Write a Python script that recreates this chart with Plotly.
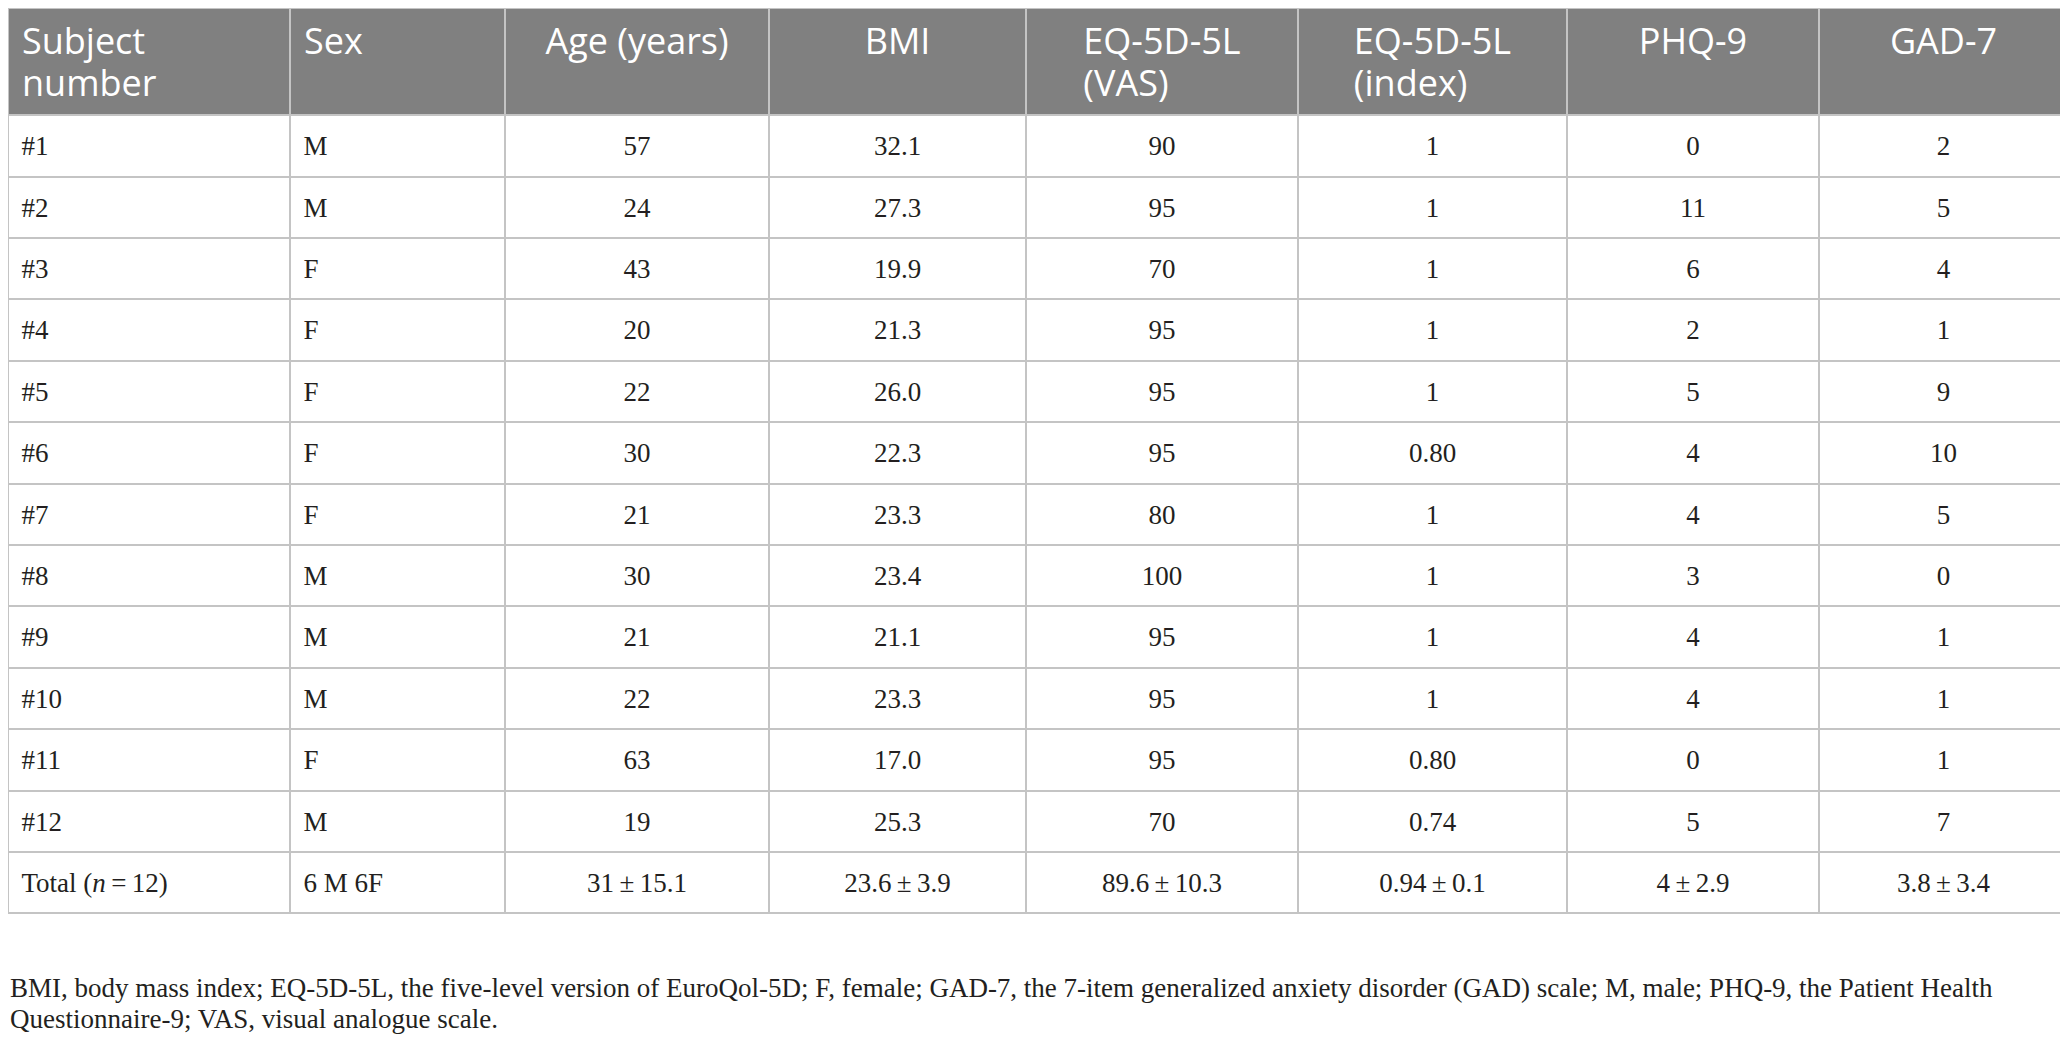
import plotly.graph_objects as go

# column headers
headers = ["Subject<br>number", "Sex", "Age (years)", "BMI", "EQ-5D-5L<br>(VAS)",
           "EQ-5D-5L<br>(index)", "PHQ-9", "GAD-7"]

# table values (one list per column)
subject = ["#1", "#2", "#3", "#4", "#5", "#6", "#7", "#8", "#9", "#10", "#11", "#12",
           "Total (<i>n</i>\u2009=\u200912)"]
sex = ["M", "M", "F", "F", "F", "F", "F", "M", "M", "M", "F", "M", "6 M 6F"]
age = ["57", "24", "43", "20", "22", "30", "21", "30", "21", "22", "63", "19",
       "31\u2009±\u200915.1"]
bmi = ["32.1", "27.3", "19.9", "21.3", "26.0", "22.3", "23.3", "23.4", "21.1", "23.3",
       "17.0", "25.3", "23.6\u2009±\u20093.9"]
eq_vas = ["90", "95", "70", "95", "95", "95", "80", "100", "95", "95", "95", "70",
          "89.6\u2009±\u200910.3"]
eq_index = ["1", "1", "1", "1", "1", "0.80", "1", "1", "1", "1", "0.80", "0.74",
            "0.94\u2009±\u20090.1"]
phq9 = ["0", "11", "6", "2", "5", "4", "4", "3", "4", "4", "0", "5", "4\u2009±\u20092.9"]
gad7 = ["2", "5", "4", "1", "9", "10", "5", "0", "1", "1", "1", "7", "3.8\u2009±\u20093.4"]

footnote = ["BMI, body mass index; EQ-5D-5L, the five-level version of EuroQol-5D; F, female; "
            "GAD-7, the 7-item generalized anxiety disorder (GAD) scale; M, male; PHQ-9, the Patient Health",
            "Questionnaire-9; VAS, visual analogue scale."]

# the page body keeps its 8px margin, so the figure is a bit smaller than the window
W, H = 2060, 1044
col_widths = [282, 215, 264, 257, 272, 269, 252, 249]
line_col = "#c4c4c4"
n_left = 2  # first two columns are left aligned

# table cells are top aligned: a bigger "strut" font pushes the visible text down,
# the trailing <br> keeps plotly from word-wrapping the markup
BODY_STRUT, BODY_SIZE = 36, 27
HEAD_STRUT, HEAD_SIZE = 32.5, 36


def body_cell(text, left):
    span = "<span style='font-size:%dpx'>%s%s</span>" % (BODY_SIZE, "\u2009" if left else "", text)
    return (span + "\u00a0<br>") if left else ("\u00a0" + span + "\u00a0<br>")


def head_cell(text, left):
    lines = text.split("<br>")
    out = ["<span style='font-size:%dpx'>%s%s</span>" % (HEAD_SIZE, "\u2009" if left else "", ln)
           for ln in lines]
    return "<br>".join(out) + "<br>"


cols = [subject, sex, age, bmi, eq_vas, eq_index, phq9, gad7]
cells = [[body_cell(s, i < n_left) for s in c] for i, c in enumerate(cols)]
head = [head_cell(h, i < n_left) for i, h in enumerate(headers)]
align = ["left"] * n_left + ["center"] * (len(cols) - n_left)

fig = go.Figure(go.Table(
    columnwidth=col_widths,
    header=dict(
        values=head,
        align=align,
        fill_color="#808080",
        line=dict(color=line_col, width=2),
        font=dict(family="Open Sans", size=HEAD_STRUT, color="white"),
        height=107,
    ),
    cells=dict(
        values=cells,
        align=align,
        fill_color="white",
        line=dict(color=line_col, width=2),
        font=dict(family="Liberation Serif", size=BODY_STRUT, color="#231f20"),
        height=61.4,
    ),
    domain=dict(x=[0, 1], y=[(H - 916) / H, 1]),
))

fig.add_annotation(
    x=0, y=(H - 963) / H, xref="paper", yref="paper",
    text="<br>".join("<span style='font-size:27px'>%s</span>" % ln for ln in footnote),
    showarrow=False, align="left",
    xanchor="left", yanchor="top",
    font=dict(family="Liberation Serif", size=24, color="#231f20"),
)

fig.update_layout(
    width=W, height=H,
    margin=dict(l=0, r=0, t=0, b=0),
    paper_bgcolor="white",
    plot_bgcolor="white",
)

fig.write_html("out.html")
